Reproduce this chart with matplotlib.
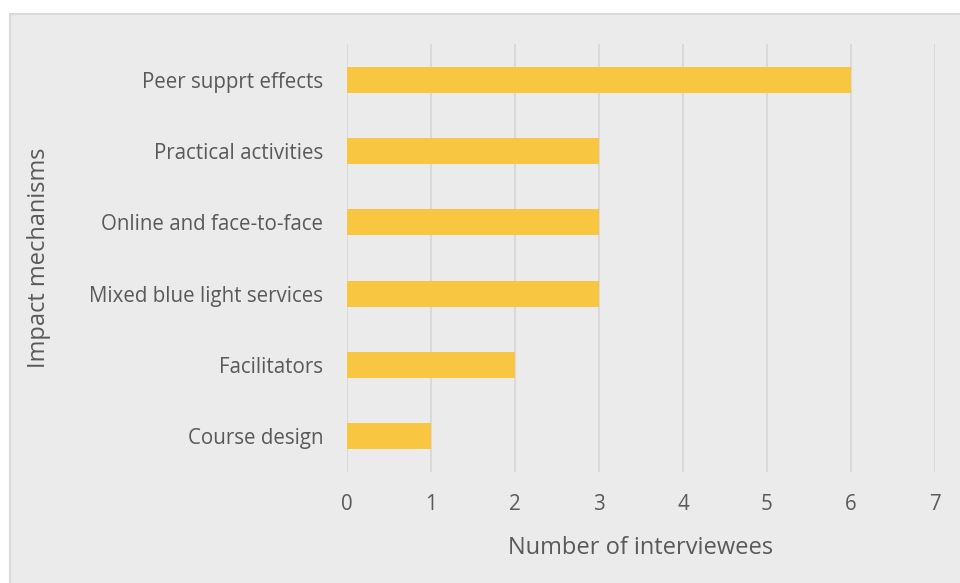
import matplotlib
matplotlib.use("Agg")
import matplotlib.pyplot as plt
from matplotlib.patches import Rectangle

categories = ["Course design", "Facilitators", "Mixed blue light services",
              "Online and face-to-face", "Practical activities", "Peer supprt effects"]
values = [1, 2, 3, 3, 3, 6]
xticks = [0, 1, 2, 3, 4, 5, 6, 7]

plt.rcParams['font.family'] = ['Open Sans', 'DejaVu Sans']

fig = plt.figure(figsize=(9.6, 5.83), dpi=100)
fig.patch.set_facecolor('white')
bg = Rectangle((10/960, -0.01), 1.0, 1 - 14/583 + 0.01, transform=fig.transFigure,
               facecolor='#ebebeb', edgecolor='#d9d9d9', linewidth=1.5, zorder=-10)
fig.patches.append(bg)

ax = fig.add_axes([347/960, 1 - 472/583, 588/960, 428/583])
ax.set_facecolor('none')
ax.barh(range(len(categories)), values, height=0.36, color='#f8c640', zorder=3)
ax.set_xlim(0, 7)
ax.set_ylim(-0.5, len(categories) - 0.5)
ax.set_xticks(xticks)
ax.set_xticklabels([str(t) for t in xticks])
ax.set_yticks(range(len(categories)))
ax.set_yticklabels(categories)
ax.grid(axis='x', color='#d9d9d9', linewidth=1.5, zorder=0)
ax.grid(axis='y', visible=False)
for s in ax.spines.values():
    s.set_visible(False)
ax.tick_params(axis='both', length=0, colors='#595959', labelsize=14.8)
ax.tick_params(axis='x', pad=16)
ax.tick_params(axis='y', pad=17)
ax.set_xlabel("Number of interviewees", fontsize=17, color='#595959', labelpad=15)
ax.set_ylabel("Impact mechanisms", fontsize=17, color='#595959', labelpad=28)

fig.savefig("out.png", dpi=100)
